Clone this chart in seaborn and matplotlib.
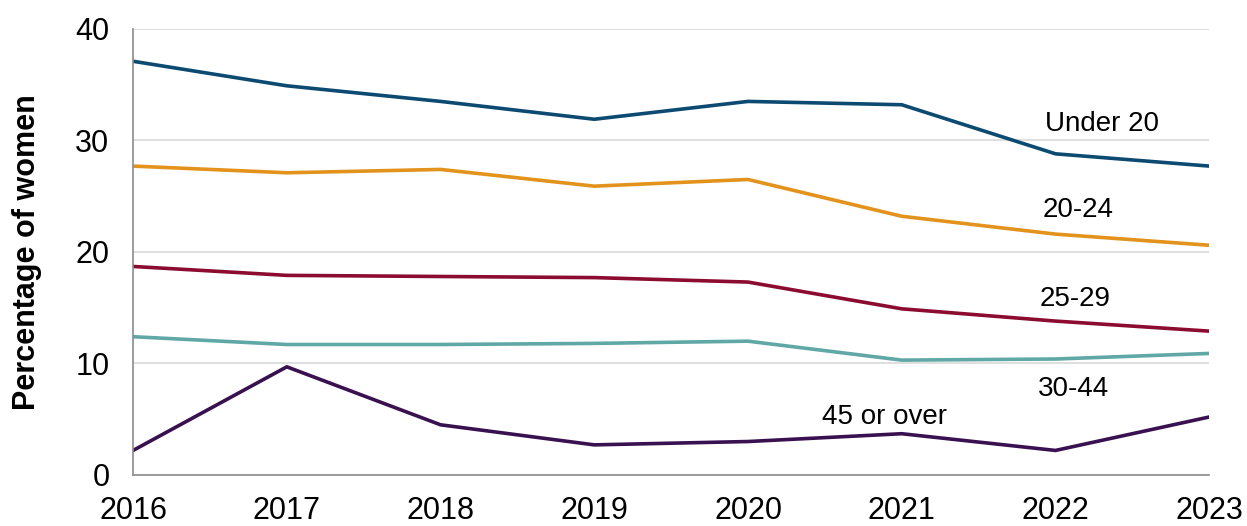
import pandas as pd
import matplotlib.pyplot as plt
import seaborn as sns

# Data
years = [2016, 2017, 2018, 2019, 2020, 2021, 2022, 2023]
under_20 = [37.1, 34.9, 33.5, 31.9, 33.5, 33.2, 28.8, 27.7]
age_20_24 = [27.7, 27.1, 27.4, 25.9, 26.5, 23.2, 21.6, 20.6]
age_25_29 = [18.7, 17.9, 17.8, 17.7, 17.3, 14.9, 13.8, 12.9]
age_30_44 = [12.4, 11.7, 11.7, 11.8, 12.0, 10.3, 10.4, 10.9]
age_45_plus = [2.2, 9.7, 4.5, 2.7, 3.0, 3.7, 2.2, 5.2]

groups = ["Under 20", "20-24", "25-29", "30-44", "45 or over"]
colors = ["#0d4a72", "#e3921c", "#8c0b30", "#5fa8a6", "#3a1150"]

df = pd.DataFrame({
    "Year": years * 5,
    "Value": under_20 + age_20_24 + age_25_29 + age_30_44 + age_45_plus,
    "Group": [g for g in groups for _ in years],
})

sns.set_style("white")
plt.rcParams["font.family"] = ["Liberation Sans", "DejaVu Sans"]

fig = plt.figure(figsize=(12.47, 5.26), dpi=100)
ax = fig.add_axes([0.1067, 0.097, 0.863, 0.848])

sns.lineplot(data=df, x="Year", y="Value", hue="Group",
             palette=dict(zip(groups, colors)), linewidth=2.6,
             legend=False, ax=ax)

ax.set_xlim(2016, 2023)
ax.set_ylim(0, 40)
ax.set_xticks(years)
ax.set_yticks([0, 10, 20, 30, 40])
ax.yaxis.grid(True, color="#d9d9d9", linewidth=1.2)
ax.set_axisbelow(True)

for side in ["top", "right"]:
    ax.spines[side].set_visible(False)
for side in ["left", "bottom"]:
    ax.spines[side].set_color("#8c8c8c")
    ax.spines[side].set_linewidth(1.2)

ax.tick_params(axis="x", direction="out", length=10, width=1, color="#8c8c8c",
               labelsize=22, labelcolor="black", pad=5)
ax.tick_params(axis="y", direction="out", length=8, width=1, color="#8c8c8c",
               labelsize=22, labelcolor="black", pad=9)

ax.set_xlabel("")
ax.set_ylabel("Percentage of women", fontsize=22, fontweight="bold",
              color="black", labelpad=24)

# Series labels
label_pos = {"Under 20": (2022.3, 31.5), "20-24": (2022.15, 23.8),
             "25-29": (2022.13, 15.8), "30-44": (2022.12, 7.7),
             "45 or over": (2020.89, 5.2)}
for g in groups:
    x, y = label_pos[g]
    ax.text(x, y, g, fontsize=20, ha="center", va="center", color="black")

fig.savefig("out.png", dpi=100)
